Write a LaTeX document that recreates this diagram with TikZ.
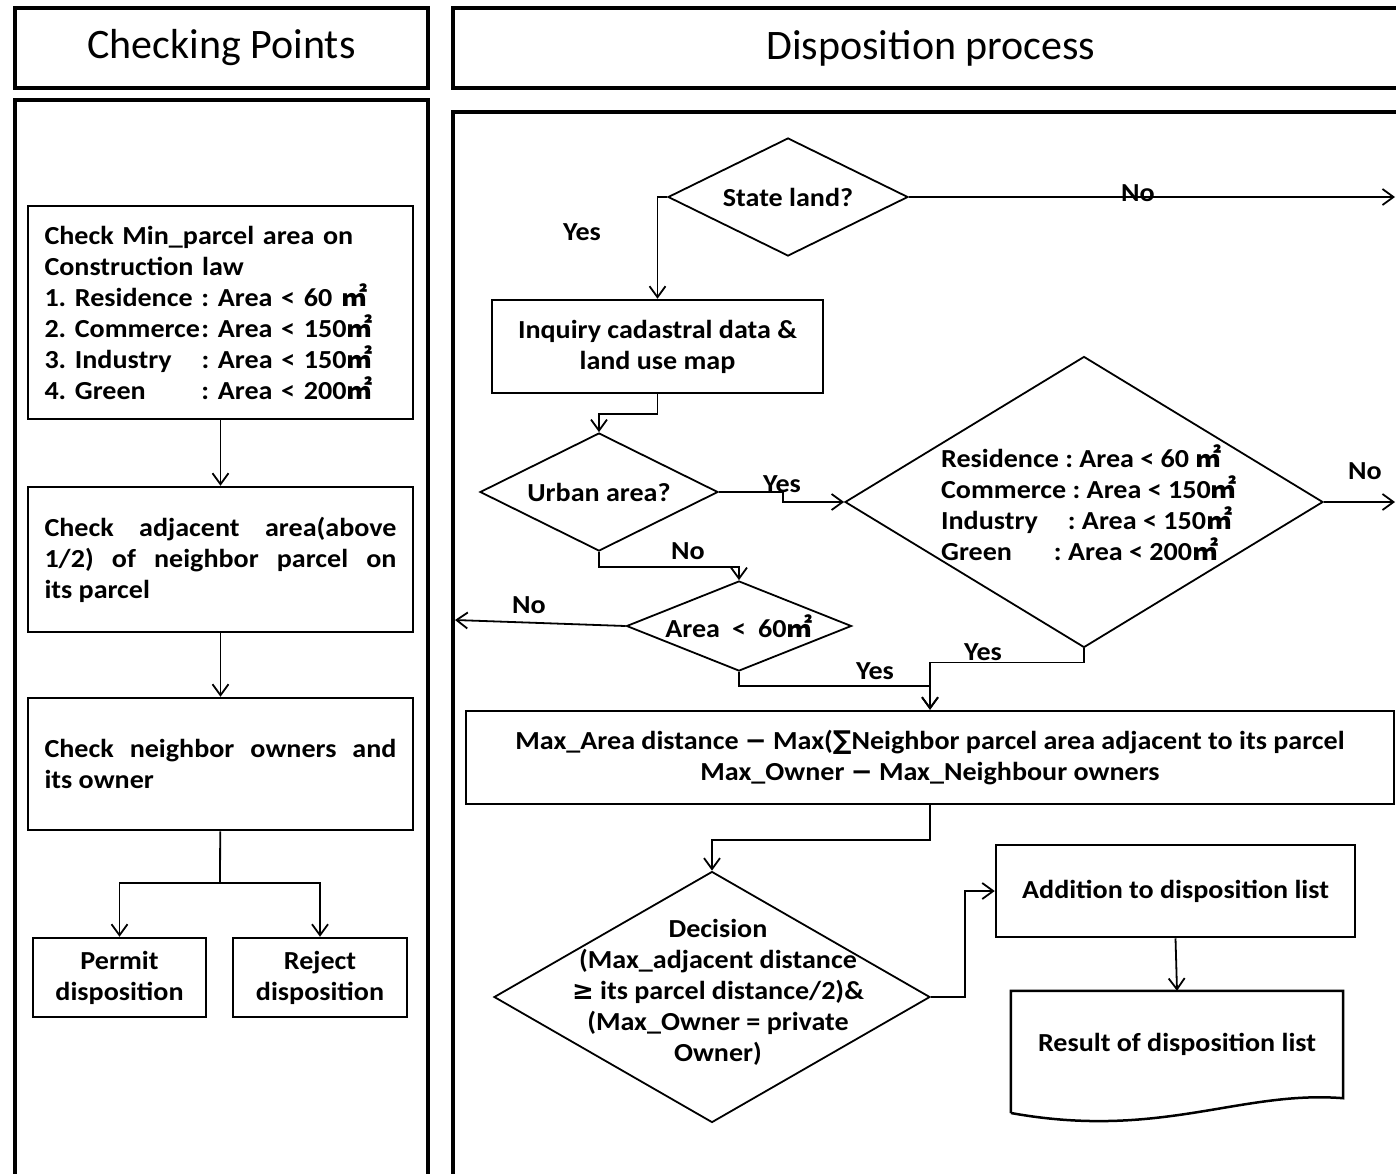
\documentclass[tikz,border=0pt]{standalone}
\usepackage{fontspec}
\setmainfont{Carlito}
\newfontfamily\bodyfont{Carlito}[FakeStretch=1.08]
\newfontfamily\sym{DejaVu Sans}
\newfontfamily\cjk{Noto Sans CJK KR}
\usetikzlibrary{shapes.geometric,arrows.meta}
\newcommand{\sqm}{{\cjk ㎡}}
\frenchspacing

\begin{document}
\begin{tikzpicture}[x=1pt,y=-1pt]
\tikzstyle{panel}=[draw, line width=3.5pt]
\tikzstyle{head}=[draw, line width=3.5pt, inner sep=0pt, font=\fontsize{42}{50}\selectfont]
\tikzstyle{block}=[draw, line width=2.5pt, inner sep=0pt, font=\bodyfont\bfseries\fontsize{26}{31}\selectfont]
\tikzstyle{cond}=[draw, diamond, line width=1.8pt, inner sep=0pt, font=\bodyfont\bfseries\fontsize{26}{31}\selectfont]
\tikzstyle{txt}=[inner sep=0pt, font=\bodyfont\bfseries\fontsize{26}{31}\selectfont]
\tikzstyle{conn}=[line width=1.8pt]
\tikzstyle{arr}=[line width=1.8pt, -{Straight Barb[length=11pt,width=16pt]}]

\useasboundingbox (0,0) rectangle (1396,1173);
\clip (0,0) rectangle (1396,1173);

% headers and panels
\node (h1) at (221.5,48) [head, minimum width=413pt, minimum height=80pt] {Checking Points};
\node (h2) at (931,48) [head, minimum width=956pt, minimum height=80pt] {Disposition process};
\draw[panel] (15,100) rectangle (428,1200);
\draw[panel] (453,112) rectangle (1420,1200);

% checking points
\node (c1) at (220.5,312.5) [block, text width=352pt, inner xsep=16.5pt, minimum height=213pt, align=left]
 {Check Min\_parcel area on\\ Construction law\\
  \makebox[157pt][l]{1. Residence}: Area < 60 \sqm\\
  \makebox[157pt][l]{2. Commerce}: Area < 150\sqm\\
  \makebox[157pt][l]{3. Industry}: Area < 150\sqm\\
  \makebox[157pt][l]{4. Green}: Area < 200\sqm};
\node (c2) at (220.5,559.5) [block, text width=352pt, inner xsep=16.5pt, minimum height=145pt, align=justify]
 {Check adjacent area(above\linebreak 1/2) of neighbor parcel on\linebreak its parcel};
\node (c3) at (220.5,764) [block, text width=352pt, inner xsep=16.5pt, minimum height=132pt, align=justify]
 {Check neighbor owners and\linebreak its owner};
\node (pm) at (119.5,977.5) [block, minimum width=173pt, minimum height=79pt, align=center] {Permit\\disposition};
\node (rj) at (320,977.5) [block, minimum width=174pt, minimum height=79pt, align=center] {Reject\\disposition};
\coordinate (sp) at (220,883);

\draw[arr] (c1) -- (c2);
\draw[arr] (c2) -- (c3);
\draw[conn] (c3) -- (sp);
\draw[arr] (sp) -| (pm);
\draw[arr] (sp) -| (rj);

% disposition process
\node (s1) at (788,197) [cond, minimum width=240pt, minimum height=118pt, shape aspect=2] {State land?};
\node (iq) at (657.5,346.5) [block, minimum width=331pt, minimum height=93pt, align=center] {Inquiry cadastral data \&\\land use map};
\node (u1) at (599,492) [cond, minimum width=238pt, minimum height=118pt, shape aspect=2] {Urban area?};
\node (b1) at (1084,502) [cond, minimum width=478pt, minimum height=291pt] {};
\node (b1t) at (1089,503) [txt, align=left]
 {Residence : Area < 60 \sqm\\
  Commerce : Area < 150\sqm\\
  Industry\hspace{30pt}: Area < 150\sqm\\
  Green\hspace{42pt}: Area < 200\sqm};
\node (a1) at (739,626) [cond, minimum width=225pt, minimum height=90pt, shape aspect=2.5] {Area\hspace{12pt}<\hspace{12pt}60\sqm};
\node (mx) at (930,757.5) [block, minimum width=928pt, minimum height=93pt, align=center]
 {Max\_Area distance {\sym −} Max({\sym ∑}Neighbor parcel area adjacent to its parcel\\
  Max\_Owner {\sym −} Max\_Neighbour owners};
\node (d1) at (712,997) [cond, minimum width=436pt, minimum height=251pt] {};
\node (d1t) at (718,992) [txt, align=center]
 {Decision\\(Max\_adjacent distance\\{\sym ≥} its parcel distance/2)\&\\(Max\_Owner = private\\Owner)};
\node (ad) at (1175.5,891) [block, minimum width=359pt, minimum height=92pt] {Addition to disposition list};
\node (rs) at (1177,1044.5) [txt, minimum width=332pt, minimum height=107pt] {Result of disposition list};
\draw[line width=2.5pt] (rs.south west) ++(0,15) -- (rs.north west) -- (rs.north east) -- (rs.south east)
 .. controls (1240,1090) and (1160,1140) .. (1011,1113);

\coordinate (e1) at (1395,197);
\coordinate (e2) at (455,620);
\coordinate (e3) at (1395,502);

\draw[arr] (s1.east) -- (e1);
\node (no1) at (1138,193) [txt] {No};
\draw[arr] (s1.west) -| (iq.north);
\node (yes1) at (582,232) [txt] {Yes};
\draw[arr] (iq.south) -- ++(0,20) -| (u1.north);
\draw[arr] (u1.east) -- ++(64,0) |- (b1.west);
\node (yes2) at (782,484) [txt] {Yes};
\draw[arr] (u1.south) -- ++(0,15) -| (a1.north);
\node (no2) at (688,551) [txt] {No};
\draw[arr] (a1.west) -- (e2);
\node (no3) at (529,605) [txt] {No};
\draw[arr] (a1.south) -- ++(0,14) -| (mx.north);
\node (yes3) at (875,671) [txt] {Yes};
\draw[arr] (b1.south) -- ++(0,14) -| (mx.north);
\node (yes4) at (983,652) [txt] {Yes};
\draw[arr] (b1.east) -- (e3);
\node (no4) at (1365,471) [txt] {No};
\draw[arr] (mx.south) -- ++(0,35) -| (d1.north);
\draw[arr] (d1.east) -- ++(34,0) |- (ad.west);
\draw[arr] (ad.south) -- (rs.north);
\end{tikzpicture}
\end{document}
